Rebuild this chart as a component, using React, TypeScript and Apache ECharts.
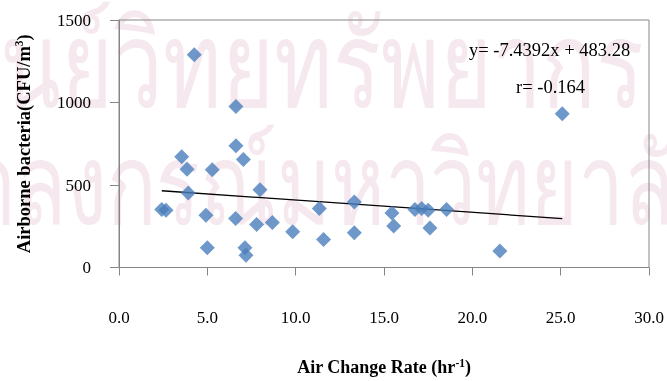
import React, { useEffect, useRef } from 'react';
import * as echarts from 'echarts';

// Air change rate (hr^-1) for each sampled room
const airChangeRate = [
  2.42, 2.66, 3.55, 3.85, 3.92, 4.26, 4.92, 5.0, 5.28, 6.6, 6.62, 6.62, 7.04, 7.13, 7.19, 7.79,
  7.98, 8.68, 9.83, 11.34, 11.58, 13.32, 13.32, 15.45, 15.55, 16.75, 17.13, 17.5, 17.6, 18.54,
  21.56, 25.09,
];
// Airborne bacteria (CFU/m^3)
const airborneBacteria = [
  351, 347, 671, 595, 451, 1289, 317, 120, 593, 297, 976, 738, 655, 120, 74, 261,
  471, 273, 216, 357, 170, 397, 210, 331, 251, 351, 357, 347, 240, 351,
  100, 932,
];
// regression reported on the chart
const slope = -7.4392;
const intercept = 483.28;
const equationText = 'y= -7.4392x + 483.28';
const rText = 'r= -0.164';
const watermarkLines = ['ศูนย์วิทยทรัพยากร', 'จุฬาลงกรณ์มหาวิทยาลัย'];

const SERIF = '"Liberation Serif", "Times New Roman", serif';
const WM = '#f6e8ef';

export default function App() {
  const ref = useRef<HTMLDivElement>(null);
  useEffect(() => {
    const chart = echarts.init(ref.current!, null, { renderer: 'svg' });
    const pts = airChangeRate.map((x, i) => [x, airborneBacteria[i]]);
    const xMin = Math.min(...airChangeRate);
    const xMax = Math.max(...airChangeRate);
    const trend = [
      [xMin, slope * xMin + intercept],
      [xMax, slope * xMax + intercept],
    ];
    chart.setOption({
      animation: false,
      textStyle: { fontFamily: SERIF },
      graphic: [
        {
          type: 'text', x: -56, y: 65, z: -100, silent: true, scaleY: 1.35,
          style: { text: watermarkLines[0], fontSize: 89, fill: WM, fontFamily: 'sans-serif', verticalAlign: 'middle' },
        },
        {
          type: 'text', x: -134, y: 185, z: -100, silent: true, scaleY: 1.38,
          style: { text: watermarkLines[1], fontSize: 82, fill: WM, fontFamily: 'sans-serif', verticalAlign: 'middle' },
        },
        {
          type: 'text', left: 469, top: 40,
          style: { text: equationText, fontSize: 18.5, fill: '#000', fontFamily: SERIF },
        },
        {
          type: 'text', left: 516, top: 77,
          style: { text: rText, fontSize: 18.5, fill: '#000', fontFamily: SERIF },
        },
      ],
      grid: {
        left: 119, right: 18, top: 20, bottom: 111,
        show: true, borderColor: '#868686', borderWidth: 1, backgroundColor: 'transparent',
      },
      xAxis: {
        type: 'value', min: 0, max: 30, interval: 5,
        name: '{a|Air Change Rate (hr}{s|-1}{a|)}',
        nameLocation: 'middle', nameGap: 89,
        nameTextStyle: {
          rich: {
            a: { fontFamily: SERIF, fontSize: 18, fontWeight: 'bold', color: '#000', lineHeight: 21 },
            s: { fontFamily: SERIF, fontSize: 11.5, fontWeight: 'bold', color: '#000', verticalAlign: 'top', lineHeight: 21 },
          },
        },
        axisLine: { show: true, lineStyle: { color: '#868686', width: 1 } },
        axisTick: { show: true, inside: false, length: 8, lineStyle: { color: '#868686' } },
        splitLine: { show: false },
        axisLabel: {
          margin: 41, fontSize: 17, color: '#000', fontFamily: SERIF,
          formatter: (v: number) => v.toFixed(1),
        },
      },
      yAxis: {
        type: 'value', min: 0, max: 1500, interval: 500,
        name: '{a|Airborne bacteria(CFU/m}{s|3}{a|)}',
        nameLocation: 'middle', nameGap: 85, nameRotate: 90,
        nameTextStyle: {
          rich: {
            a: { fontFamily: SERIF, fontSize: 18.5, fontWeight: 'bold', color: '#000', lineHeight: 21 },
            s: { fontFamily: SERIF, fontSize: 11.5, fontWeight: 'bold', color: '#000', verticalAlign: 'top', lineHeight: 21 },
          },
        },
        axisLine: { show: true, lineStyle: { color: '#868686', width: 1 } },
        axisTick: { show: true, inside: false, length: 9, lineStyle: { color: '#868686' } },
        splitLine: { show: false },
        axisLabel: {
          margin: 28, fontSize: 17, color: '#000', fontFamily: SERIF,
          formatter: (v: number) => String(v),
        },
      },
      series: [
        {
          type: 'scatter', data: pts, symbol: 'diamond', symbolSize: 15,
          itemStyle: { color: '#4a7ebb' }, z: 3,
        },
        {
          type: 'line', data: trend, symbol: 'none', z: 2,
          lineStyle: { color: '#000', width: 1.3 },
        },
      ],
    });
    return () => chart.dispose();
  }, []);
  return <div ref={ref} style={{ position: 'fixed', left: 0, top: 0, width: 667, height: 381 }} />;
}
